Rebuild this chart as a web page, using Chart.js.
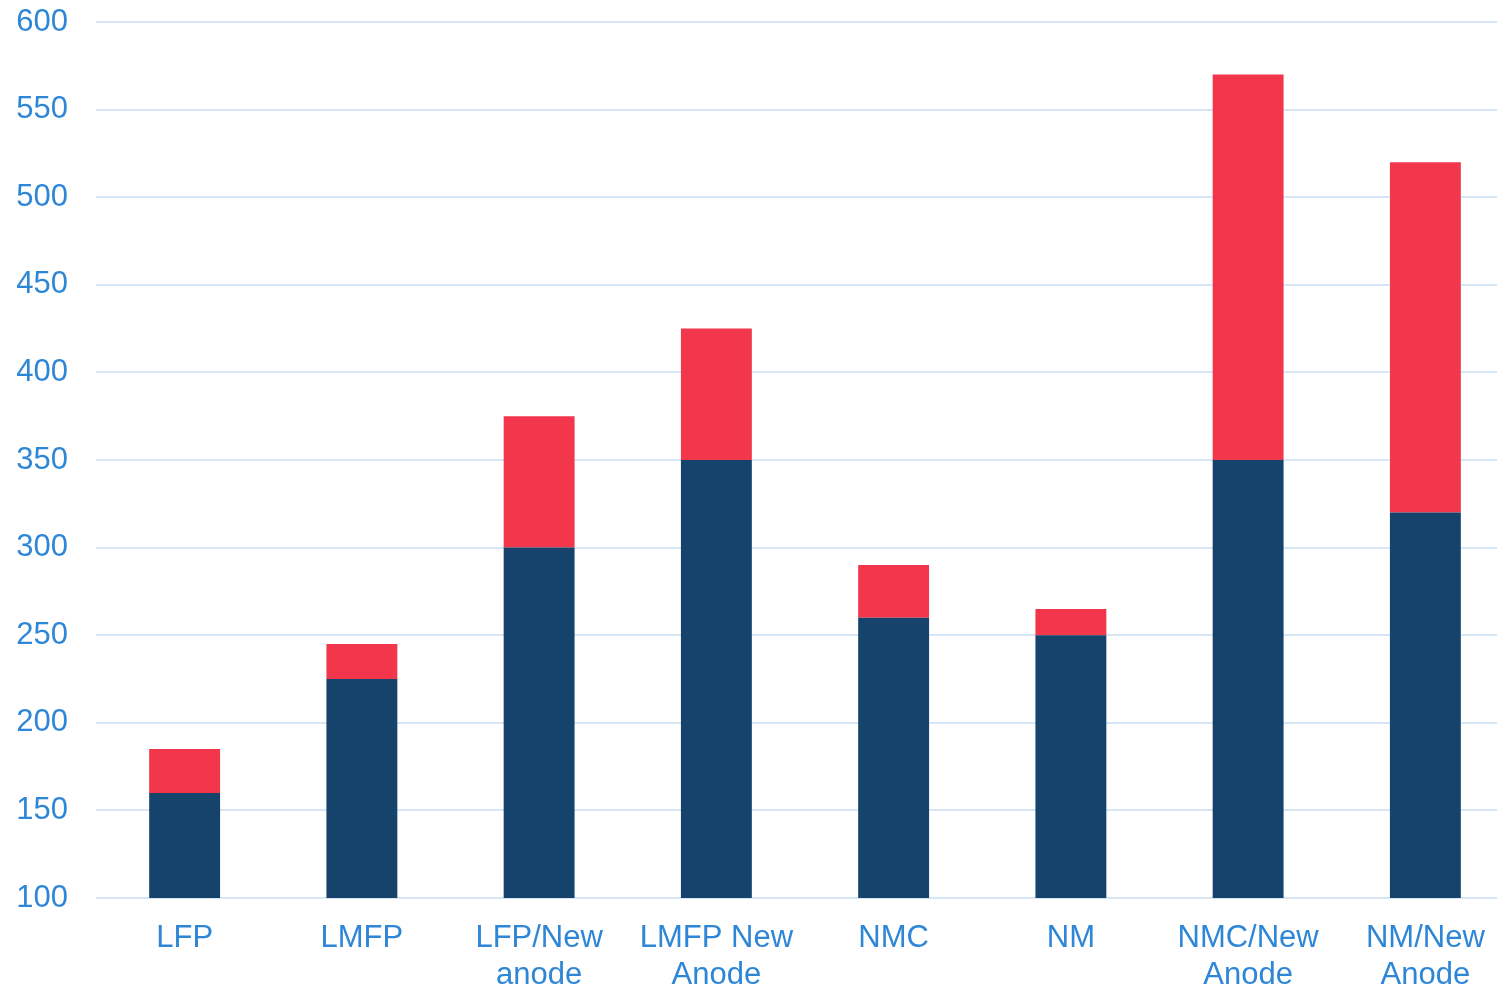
<!DOCTYPE html>
<html>
<head>
<meta charset="utf-8">
<script src="https://cdn.jsdelivr.net/npm/chart.js@4"></script>
<style>
  html, body { margin: 0; padding: 0; background: #fff; overflow: hidden; }
  #wrap { width: 1514px; height: 986px; position: relative; }
</style>
</head>
<body>
<div id="wrap"><canvas id="myChart"></canvas></div>
<script>
// categorias (eje x)
const categorias = [
  'LFP',
  'LMFP',
  ['LFP/New', 'anode'],
  ['LMFP New', 'Anode'],
  'NMC',
  'NM',
  ['NMC/New', 'Anode'],
  ['NM/New', 'Anode']
];
// parte base de cada barra
const base = [160, 225, 300, 350, 260, 250, 350, 320];
// lo que se suma encima (rojo)
const extra = [25, 20, 75, 75, 30, 15, 220, 200];
// marcas del eje y
const yMin = 100;
const yMax = 600;
const yPaso = 50;

const azulTexto = '#2E86D6';
const gris = '#D6E6F5';

const data = {
  labels: categorias,
  datasets: [{
    label: 'Base',
    data: base,
    backgroundColor: '#15436B',
    barPercentage: 0.4,
    categoryPercentage: 1.0
  }, {
    label: 'Extra',
    data: extra,
    backgroundColor: '#F2364C',
    barPercentage: 0.4,
    categoryPercentage: 1.0
  }]
};

const options = {
  responsive: true,
  maintainAspectRatio: false,
  animation: false,
  layout: { padding: { top: 22, right: 0, bottom: 0, left: 0 } },
  plugins: {
    legend: { display: false },
    tooltip: { enabled: false }
  },
  scales: {
    x: {
      stacked: true,
      grid: { display: false },
      border: { display: false },
      ticks: {
        color: azulTexto,
        font: { family: 'Liberation Sans, Arial, sans-serif', size: 31, lineHeight: 1.2 },
        padding: 14,
        maxRotation: 0,
        autoSkip: false
      },
      afterFit: function (scale) {
        scale.height = 88;
        scale.paddingLeft = 0;
        scale.paddingRight = 0;
      }
    },
    y: {
      stacked: true,
      min: yMin,
      max: yMax,
      grid: { color: gris, lineWidth: 2, drawTicks: false },
      border: { display: false },
      ticks: {
        stepSize: yPaso,
        color: azulTexto,
        font: { family: 'Liberation Sans, Arial, sans-serif', size: 31 },
        padding: 28
      },
      afterFit: function (scale) {
        scale.width = 96;
        scale.paddingTop = 0;
        scale.paddingBottom = 0;
      }
    }
  }
};

const config = {
  type: 'bar',
  data: data,
  options: options
};

const myChart = new Chart(document.getElementById('myChart').getContext('2d'), config);
</script>
</body>
</html>
